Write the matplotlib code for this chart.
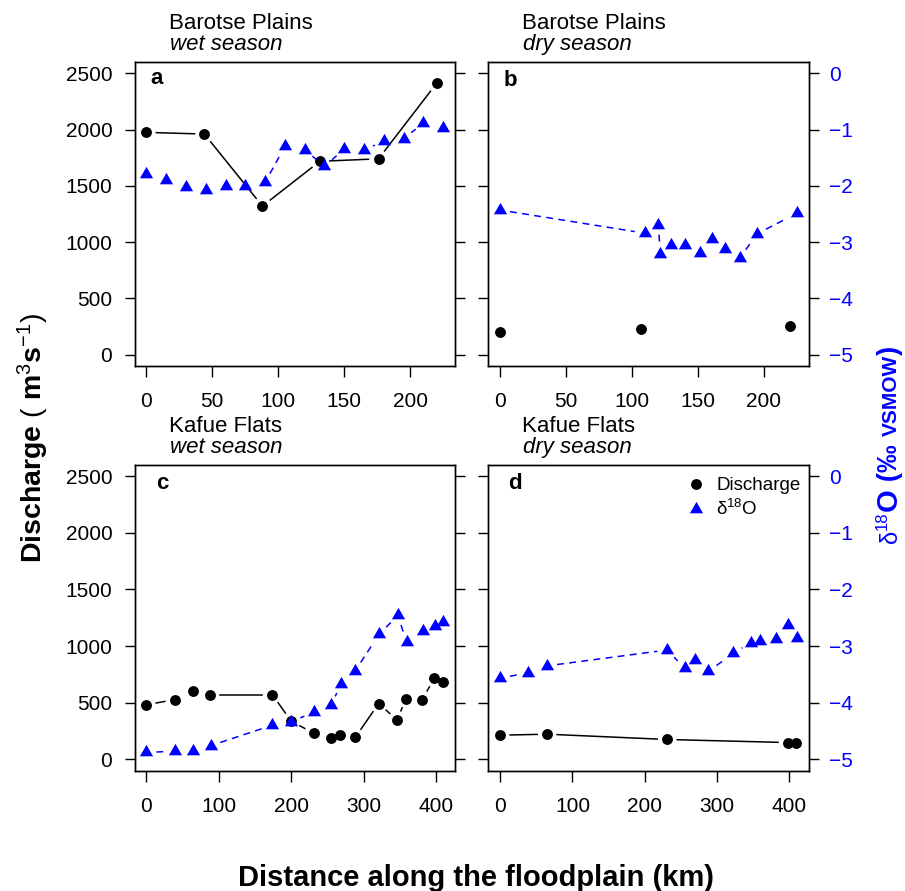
import numpy as np
import matplotlib
matplotlib.use("Agg")
import matplotlib.pyplot as plt
from matplotlib.lines import Line2D
from matplotlib.transforms import IdentityTransform

plt.rcParams["font.family"] = ["Liberation Sans", "DejaVu Sans"]
plt.rcParams["mathtext.fontset"] = "custom"
plt.rcParams["mathtext.rm"] = "Liberation Sans"
plt.rcParams["mathtext.it"] = "Liberation Sans:italic"
plt.rcParams["mathtext.bf"] = "Liberation Sans:bold"
plt.rcParams["mathtext.sf"] = "Liberation Sans"

# ---- datos ----
# (a) Barotse Plains, wet season
a_q_km = [0, 44, 88, 131.5, 176, 220]
a_q = [1975, 1960, 1320, 1718, 1740, 2410]
a_d_km = [0, 15, 30, 45, 60, 75, 90, 105, 120, 135, 150, 165, 180, 195, 210, 225]
a_d = [-1.79, -1.90, -2.02, -2.08, -2.01, -2.00, -1.94, -1.30, -1.36, -1.65,
       -1.35, -1.37, -1.20, -1.17, -0.88, -0.98]

# (b) Barotse Plains, dry season
b_q_km = [0, 107, 220]
b_q = [203, 233, 253]
b_d_km = [0, 109.6, 120, 121.6, 130, 140, 151.6, 161, 171, 182, 195, 225]
b_d = [-2.43, -2.84, -2.69, -3.21, -3.05, -3.05, -3.20, -2.94, -3.13, -3.28,
       -2.85, -2.49]

# (c) Kafue Flats, wet season
c_q_km = [0, 39, 65, 88.5, 174, 200, 231, 255, 268, 288.5, 321, 346.5, 358.5,
          381, 398, 409.5]
c_q = [480, 527, 603, 571, 571, 336, 230, 186, 218, 192, 492, 345, 536, 527,
       716, 678]
c_d_km = [0, 40, 65, 89, 174, 200, 231, 255, 269, 288.5, 321.5, 347.5, 359.5,
          381.5, 399, 410]
c_d = [-4.88, -4.86, -4.86, -4.76, -4.40, -4.34, -4.17, -4.05, -3.67, -3.44,
       -2.79, -2.46, -2.93, -2.73, -2.64, -2.58]

# (d) Kafue Flats, dry season
d_q_km = [0, 65, 231, 398, 409.5]
d_q = [212, 221, 174, 147, 147]
d_d_km = [0, 39, 65, 231, 255, 269, 288, 322, 347, 359.5, 381.5, 398.5, 410]
d_d = [-3.57, -3.47, -3.35, -3.07, -3.39, -3.25, -3.45, -3.13, -2.94, -2.91,
       -2.88, -2.63, -2.86]

titles = [("Barotse Plains", "wet season"), ("Barotse Plains", "dry season"),
          ("Kafue Flats", "wet season"), ("Kafue Flats", "dry season")]
letters = ["a", "b", "c", "d"]

W, H = 905, 891
BLUE = "#0000FF"
TRI = [(0, 1), (-0.866, -0.5), (0.866, -0.5)]
GAP = 10  # px, hueco tipo R type="b"


def b_line(ax, x, y, **kw):
    """segmentos entre puntos con hueco alrededor de cada punto (R type='b')"""
    pts = ax.transData.transform(np.column_stack([x, y]))
    inv = ax.transData.inverted()
    for p, q in zip(pts[:-1], pts[1:]):
        d = q - p
        L = np.hypot(*d)
        if L <= 2 * GAP + 1:
            continue
        u = d / L
        s, e = inv.transform(p + u * GAP), inv.transform(q - u * GAP)
        ax.plot([s[0], e[0]], [s[1], e[1]], **kw)


def rect(x0, y0, x1, y1):
    return [x0 / W, 1 - y1 / H, (x1 - x0) / W, (y1 - y0) / H]


fig = plt.figure(figsize=(W / 100, H / 100), dpi=100)
rects = [rect(134.5, 62, 455, 366), rect(488.3, 62, 808.5, 366),
         rect(134.5, 465, 455, 770.5), rect(488.3, 465, 808.5, 770.5)]
data = [(a_q_km, a_q, a_d_km, a_d), (b_q_km, b_q, b_d_km, b_d),
        (c_q_km, c_q, c_d_km, c_d), (d_q_km, d_q, d_d_km, d_d)]
letter_off = [(22, -22), (22, -24), (27.5, -24), (27, -24)]

for i, (r, (qx, qy, dx, dy)) in enumerate(zip(rects, data)):
    ax = fig.add_axes(r)
    top = i < 2
    left = i % 2 == 0
    ax.set_xlim((-9, 234) if top else (-16.4, 426.4))
    ax.set_xticks(np.arange(0, 201, 50) if top else np.arange(0, 401, 100))
    ax.set_ylim(-100, 2600)
    ax.set_yticks(np.arange(0, 2501, 500))
    ax2 = ax.twinx()
    ax2.set_ylim(-5.2, 0.2)
    ax2.set_yticks(np.arange(-5, 0.5, 1))

    for a in (ax, ax2):
        for sp in a.spines.values():
            sp.set_linewidth(1.0)
    ax.tick_params(axis="x", direction="out", length=8, width=1,
                   labelsize=15, pad=11)
    ax.tick_params(axis="y", direction="out", length=7, width=1,
                   labelsize=15, pad=9, labelleft=left)
    ax2.tick_params(axis="y", direction="out", length=7, width=1,
                    labelsize=15, pad=8, labelright=not left,
                    labelcolor=BLUE)

    ax.plot(qx, qy, "o", color="black", ms=6.8, zorder=3)
    if i != 1:
        b_line(ax, qx, qy, color="black", lw=1.1)
    ax2.plot(dx, dy, marker=TRI, ls="none", color=BLUE, ms=11, mew=0,
             zorder=3)
    b_line(ax2, dx, dy, color=BLUE, lw=1.1, ls=(0, (4.5, 3.5)))

    ax.annotate(titles[i][0], xy=(0, 1), xycoords="axes fraction",
                xytext=(34, 33), textcoords="offset pixels", ha="left",
                va="baseline", fontsize=16)
    ax.annotate(titles[i][1], xy=(0, 1), xycoords="axes fraction",
                xytext=(35, 12), textcoords="offset pixels", ha="left",
                va="baseline", fontsize=16, style="italic")
    ax2.annotate(letters[i], xy=(0, 1), xycoords="axes fraction",
                 xytext=letter_off[i], textcoords="offset pixels",
                 ha="center", va="baseline", fontsize=16, fontweight="bold")

    if i == 3:
        handles = [Line2D([], [], marker="o", ls="none", color="black", ms=6.8),
                   Line2D([], [], marker=TRI, ls="none", color=BLUE, ms=11,
                          mew=0)]
        ax2.legend(handles, ["Discharge", r"$\mathrm{δ}^{18}$O"],
                   loc="upper right", bbox_to_anchor=(1.013, 1.0),
                   frameon=False, fontsize=13.5,
                   handlelength=1.0, handletextpad=0.6, labelspacing=0.25,
                   borderaxespad=0.25)

fig.text(33 / W, 1 - 438 / H,
         r"$\mathbf{Discharge}\ (\ \mathbf{m}^{3}\mathbf{s}^{-1})$",
         rotation=90, ha="center", va="center", fontsize=20.5)
fig.text(475.5 / W, 1 - 886 / H, "Distance along the floodplain (km)",
         ha="center", va="baseline", fontsize=21, fontweight="bold")

# etiqueta derecha, armada por piezas giradas
pieces = [("δ", 17, "normal", 0), ("18", 12, "normal", -10),
          ("O", 21, "bold", 0), (" (‰ ", 20, "bold", 0),
          ("VSMOW", 15, "bold", 0), (")", 20, "bold", 0)]
renderer = fig.canvas.get_renderer()
xb, yb = 897, H - 543
for s, size, weight, dx in pieces:
    t = fig.text(xb + dx, yb, s, rotation=90, rotation_mode="anchor",
                 ha="left", va="baseline", fontsize=size, fontweight=weight,
                 color=BLUE, transform=IdentityTransform())
    yb = t.get_window_extent(renderer).y1

fig.savefig("out.png", dpi=100)
